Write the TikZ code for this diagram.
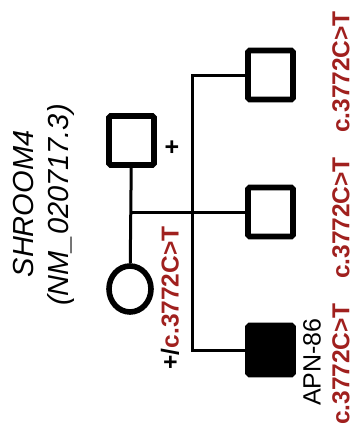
\documentclass[tikz,border=0pt]{standalone}
\usepackage{fontspec}
\setmainfont{Liberation Sans}
\usepackage{xcolor}
\usepackage{tikz}
\usetikzlibrary{positioning,calc,shapes.geometric}
\definecolor{varRed}{HTML}{A0201E}
\tikzset{
  male/.style={draw, line width=5.6pt, rounded corners=1.5pt, minimum width=45pt, minimum height=49pt, inner sep=0pt},
  female/.style={draw, ellipse, line width=5.6pt, minimum width=42pt, minimum height=46pt, inner sep=0pt},
  link/.style={line width=3pt},
  varlabel/.style={rotate=90, text=varRed, font=\fontsize{24.5}{30}\selectfont\bfseries, inner sep=0pt},
  genelabel/.style={rotate=90, font=\fontsize{29}{34}\selectfont\itshape, inner sep=0pt}
}

\begin{document}
\begin{tikzpicture}[x=1pt, y=-1pt]
    \useasboundingbox (0,0) rectangle (355,437);

    % gene name
    \node[genelabel] (gene) at (24,204) {SHROOM4};
    \node[genelabel] (refseq) at (61,205) {(NM\_020717.3)};

    % parents
    \node[male] (father) at (131.5,140.5) {};
    \node[female] (mother) at (130,289) {};
    \node[font=\fontsize{25}{30}\selectfont\bfseries, inner sep=0pt] (fplus) at (172,148) {+};
    \node[varlabel, text=black] (mgeno) at (170,298) {+/\textcolor{varRed}{c.3772C>T}};

    % children
    \node[male] (kid1) at (270.5,75) {};
    \node[male] (kid2) at (270.5,212) {};
    \node[male, fill=black] (kid3) at (270.5,350) {};
    \node[rotate=90, font=\fontsize{25}{30}\selectfont, inner sep=0pt] (proband) at (312,362) {APN-86};

    \node[varlabel] (geno1) at (341,72) {c.3772C>T};
    \node[varlabel] (geno2) at (341,218) {c.3772C>T};
    \node[varlabel] (geno3) at (341,364) {c.3772C>T};

    % lines of descent
    \coordinate (sib) at (192.7,212);
    \draw[link] (father) -- (mother);
    \draw[link] (father |- kid2) -- (kid2);
    \draw[link] (kid1) -| (sib) |- (kid3);
\end{tikzpicture}
\end{document}
